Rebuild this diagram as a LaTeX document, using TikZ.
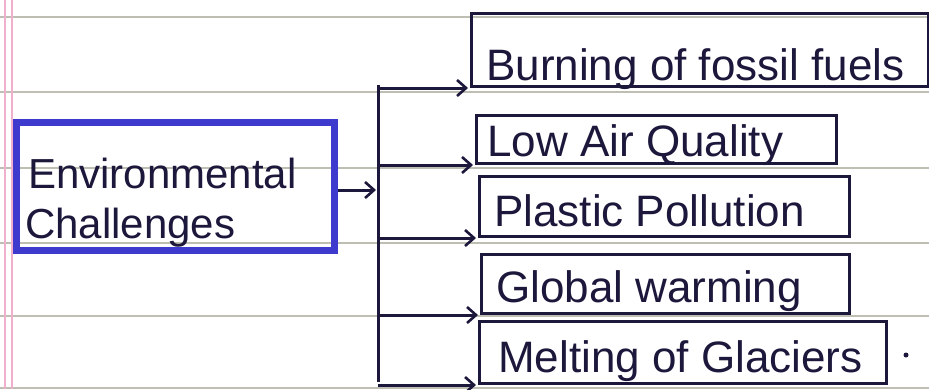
\documentclass[tikz,border=0pt]{standalone}
\usepackage{fontspec}
\setmainfont{Liberation Sans}
\usetikzlibrary{arrows.meta}
\definecolor{ink}{RGB}{28,24,60}
\definecolor{penblue}{RGB}{62,58,205}
\definecolor{rulecol}{RGB}{190,190,178}
\definecolor{margincol}{RGB}{240,175,205}
\tikzset{
  ebox/.style={draw=penblue, line width=7pt, rectangle, inner sep=0pt},
  cbox/.style={draw=ink, line width=3pt, rectangle, inner sep=0pt},
  txt/.style={text=ink, inner sep=0pt, font=\fontsize{44}{50}\selectfont},
  ctxt/.style={text=ink, inner sep=0pt, font=\fontsize{42}{48}\selectfont},
  conn/.style={draw=ink, line width=3pt, -{Straight Barb[length=9pt,width=16pt,line width=2.6pt]}, shorten >=2pt},
  trunkline/.style={draw=ink, line width=3pt},
  paperline/.style={draw=rulecol, line width=1.6pt},
  marginline/.style={draw=margincol, line width=1.2pt}
}
\begin{document}
\begin{tikzpicture}[x=1pt,y=-1pt]
\path[use as bounding box, fill=white] (0,0) rectangle (929,389);
% paper
\foreach \yy in {17,92,168,243,316,388} \draw[paperline] (0,\yy) -- (929,\yy);
\draw[marginline] (5,0) -- (5,389);
\draw[marginline] (12,0) -- (12,389);

% central box
\node[ebox, minimum width=318pt, minimum height=128pt, anchor=north west] (ec) at (13,119) {};
\node[ctxt, anchor=base west] (eca) at (28,188) {Environmental};
\node[ctxt, anchor=base west] (ecb) at (25,238) {Challenges};

% trunk
\coordinate (tr) at (378,190);
\coordinate (ttop) at (378,85);
\coordinate (tbot) at (378,382);
\draw[conn] (ec.east |- tr) -- (tr);
\draw[trunkline] (ttop) -- (tbot);

% boxes
\node[cbox, minimum width=457pt, minimum height=73pt, anchor=north west] (b1) at (470,12) {};
\node[txt, anchor=base west] (t1) at (486,80) {Burning of fossil fuels};

\node[cbox, minimum width=360pt, minimum height=48pt, anchor=north west] (b2) at (475,114) {};
\node[txt, anchor=base west] (t2) at (487,156) {Low Air Quality};

\node[cbox, minimum width=370pt, minimum height=60pt, anchor=north west] (b3) at (478,175) {};
\node[txt, anchor=base west] (t3) at (494,226) {Plastic Pollution};

\node[cbox, minimum width=368pt, minimum height=59pt, anchor=north west] (b4) at (480,253) {};
\node[txt, anchor=base west] (t4) at (496,302) {Global warming};

\node[cbox, minimum width=407pt, minimum height=62pt, anchor=north west] (b5) at (478,320) {};
\node[txt, anchor=base west] (t5) at (498,372) {Melting of Glaciers};

\fill[ink] (906,355) circle (2.5pt);

% branches
\draw[conn] (ttop |- b1.south west) -- (b1.south west);
\draw[conn] (ttop |- b2.south west) -- (b2.south west);
\draw[conn] (ttop |- b3.south west) -- (b3.south west);
\draw[conn] (ttop |- b4.south west) -- (b4.south west);
\draw[conn] (ttop |- b5.south west) -- (b5.south west);
\end{tikzpicture}
\end{document}
